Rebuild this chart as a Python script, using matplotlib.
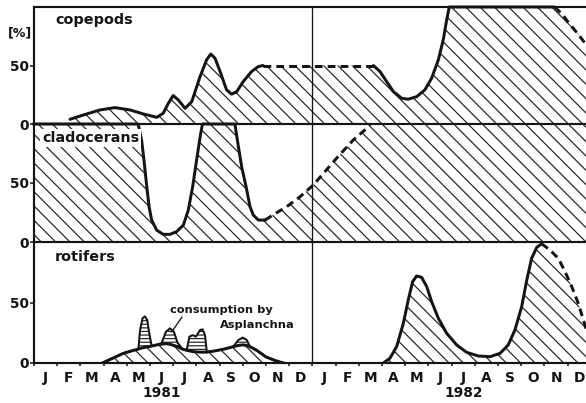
import matplotlib
matplotlib.use("Agg")
import matplotlib.pyplot as plt
import matplotlib.transforms as mtransforms

# ---------------- data ----------------
month_labels = list("JFMAMJJASOND") * 2
year_labels = ["1981", "1982"]
year_pos = [5.5, 18.5]

# copepods (month index, %)
cop_m1 = [1.55, 2.13, 2.84, 3.49, 4.14, 4.71, 5.29, 5.57, 5.79, 6.0, 6.22, 6.51, 6.80,
          7.16, 7.44, 7.62, 7.80, 8.02, 8.30, 8.52, 8.74, 9.02, 9.38, 9.67, 9.88]
cop_v1 = [4.0, 7.7, 12, 14, 12, 8.6, 5.7, 9.2, 17.7, 24.3, 20.6, 13.4, 19.1,
          40.6, 54.9, 59.8, 56.3, 44.9, 29.2, 25.5, 27.7, 36.3, 44.9, 49.1, 50]
cop_dm1 = [9.88, 14.63]
cop_dv1 = [50, 50]
cop_m2 = [14.63, 14.91, 15.2, 15.49, 15.85, 16.13, 16.5, 16.85, 17.14, 17.43, 17.64,
          17.79, 17.9, 22.45]
cop_v2 = [50, 44.9, 36.3, 27.7, 22, 21.2, 23.4, 29.2, 39.2, 54.9, 72, 89.2, 100, 100]
cop_dm2 = [22.45, 22.8, 23.1, 23.45, 23.75, 24.0]
cop_dv2 = [100, 93, 85, 77, 69, 62]

# cladocerans
cla_m1 = [0, 4.45, 4.5, 4.64, 4.74, 4.86, 4.96, 5.07, 5.29, 5.57, 5.86, 6.15, 6.44,
          6.65, 6.84, 7.01, 7.16, 7.26, 8.66, 8.81, 8.95, 9.14, 9.31, 9.45, 9.67, 9.96]
cla_v1 = [100, 100, 99, 86, 69.5, 47, 30, 18.6, 10, 6.5, 6.5, 8.8, 14.4,
          27, 47, 69.5, 89, 100, 100, 80.8, 63.8, 47, 30, 22.9, 18.6, 18.6]
cla_dm = [9.96, 10.3, 10.9, 11.47, 12.04, 12.6, 13.1, 13.76, 14.34, 14.48]
cla_dv = [18.6, 22.9, 30, 38.4, 48.3, 61, 72.3, 86.4, 96.3, 100]
cla_tm = [14.48, 24.0]
cla_tv = [100, 100]

# rotifers 1981: total rotifers and top incl. consumption by Asplanchna
rot1_m = [2.95, 3.4, 3.85, 4.3, 4.5, 4.57, 4.68, 4.78, 4.88, 4.97, 5.07, 5.3, 5.5,
          5.69, 5.86, 6.03, 6.18, 6.4, 6.58, 6.7, 6.84, 6.98, 7.16, 7.27, 7.37,
          7.45, 7.8, 8.2, 8.59, 8.81, 9.0, 9.17, 9.31, 9.6, 10.0, 10.4, 10.75]
rot1_base = [0, 4, 8, 10.5, 11.5, 12, 12.5, 13, 13.3, 13.6, 14, 15, 15.5,
             16, 15.5, 14.5, 13.5, 11.5, 10.5, 10, 9.5, 9.2, 9, 9, 9,
             9, 10, 11.5, 13.5, 14.5, 15, 14.5, 13.5, 10.5, 5, 2, 0]
rot1_top = [0, 4, 8, 10.5, 11.5, 27, 37, 38.5, 35.5, 24.5, 14, 15, 16.5,
            25.9, 28.6, 25.9, 17, 11.5, 10.5, 21.8, 23, 21.8, 27.3, 27.8, 23,
            9, 10, 11.5, 13.5, 19, 21, 19, 13.5, 10.5, 5, 2, 0]
# rotifers 1982
rot2_m = [15.06, 15.34, 15.63, 15.92, 16.13, 16.32, 16.49, 16.71, 16.93, 17.14, 17.43,
          17.79, 18.22, 18.65, 19.15, 19.66, 20.09, 20.44, 20.73, 21.02, 21.24, 21.45,
          21.67, 21.88]
rot2_v = [0, 3.9, 13.5, 32.8, 52, 67.2, 71.9, 70.8, 63, 50.7, 36.9, 24.5, 14.9, 8.8,
          5.8, 5.2, 8, 14.9, 27.3, 46.5, 68.6, 86.5, 95.6, 98.5]
rot2_dm = [21.88, 22.24, 22.6, 22.89, 23.18, 23.46, 23.68, 23.79, 24.0]
rot2_dv = [98.5, 93.4, 86.5, 75.5, 63, 49.3, 35.5, 28.7, 20]

# ---------------- style ----------------
DPI = 86
INK = "#141414"
HATCH_C = "#222222"
plt.rcParams["hatch.linewidth"] = 1.0
plt.rcParams["hatch.color"] = HATCH_C
plt.rcParams["font.family"] = ["DejaVu Sans"]
plt.rcParams["font.weight"] = "bold"

fig = plt.figure(figsize=(586 / DPI, 403 / DPI), dpi=DPI)
fig.patch.set_facecolor("white")

W, H = 586.0, 403.0
LEFT, WIDTH = 34.0, 556.8


def add_panel(top_px, bot_px):
    return fig.add_axes([LEFT / W, 1 - bot_px / H, WIDTH / W, (bot_px - top_px) / H])


ax_c = add_panel(7, 124)
ax_l = add_panel(124, 242)
ax_r = add_panel(242, 363)

LW = 2.5
DASH = (2.6, 1.7)
DIAG = "\\\\"


def style(ax, show_top=False, bottom_labels=False):
    ax.set_xlim(0, 24)
    ax.set_ylim(0, 100)
    ax.set_facecolor("none")
    ax.spines["right"].set_visible(False)
    ax.spines["top"].set_visible(show_top)
    for s in ["top", "left", "bottom"]:
        ax.spines[s].set_linewidth(1.8)
    for s in ax.spines.values():
        s.set_color(INK)
    ax.set_yticks([0, 50])
    ax.set_yticklabels(["0", "50"])
    ax.tick_params(axis="y", length=3, width=1.3, pad=1, labelsize=11.5, colors=INK)
    ax.axvline(12, color=INK, lw=1.1, zorder=5)
    if bottom_labels:
        ax.set_xticks(range(25))
        ax.set_xticklabels([])
        ax.set_xticks([i + 0.5 for i in range(24)], minor=True)
        ax.set_xticklabels(month_labels, minor=True)
        ax.tick_params(axis="x", which="major", length=2.5, width=1.3, colors=INK)
        ax.tick_params(axis="x", which="minor", length=0, pad=6.5, labelsize=11.5,
                       colors=INK)
    else:
        ax.set_xticks([])


style(ax_c, show_top=True)
style(ax_l)
style(ax_r, bottom_labels=True)

# ---- copepods ----
fm = cop_m1 + cop_dm1[1:] + cop_m2[1:] + cop_dm2[1:]
fv = cop_v1 + cop_dv1[1:] + cop_v2[1:] + cop_dv2[1:]
ax_c.fill_between(fm, 0, fv, facecolor="none", edgecolor=HATCH_C, hatch=DIAG, lw=0)
ax_c.plot(cop_m1, cop_v1, color=INK, lw=LW, solid_capstyle="round", solid_joinstyle="round")
ax_c.plot(cop_m2, cop_v2, color=INK, lw=LW, solid_capstyle="round", solid_joinstyle="round",
          clip_on=False)
ax_c.plot(cop_dm1, cop_dv1, color=INK, lw=LW, dashes=DASH)
ax_c.plot(cop_dm2, cop_dv2, color=INK, lw=LW, dashes=DASH)
ax_c.text(0.9, 89, "copepods", fontsize=12, va="center", ha="left", color=INK)
ax_c.text(-0.6, 78, "[%]", fontsize=10.5, va="center", ha="center", color=INK,
          clip_on=False)

# ---- cladocerans ----
fm = cla_m1 + cla_dm[1:] + cla_tm[1:]
fv = cla_v1 + cla_dv[1:] + cla_tv[1:]
ax_l.fill_between(fm, 0, fv, facecolor="none", edgecolor=HATCH_C, hatch=DIAG, lw=0)
ax_l.plot(cla_m1, cla_v1, color=INK, lw=LW, solid_joinstyle="round", clip_on=False)
ax_l.plot(cla_dm, cla_dv, color=INK, lw=LW, dashes=DASH)
ax_l.text(0.35, 88, "cladocerans", fontsize=12, va="center", ha="left", color=INK,
          bbox=dict(boxstyle="square,pad=0.15", fc="white", ec="none"))

# ---- rotifers ----
ax_r.fill_between(rot1_m, 0, rot1_base, facecolor="none", edgecolor=HATCH_C,
                  hatch=DIAG, lw=0)
ax_r.fill_between(rot1_m, rot1_base, rot1_top, facecolor="none", edgecolor=HATCH_C,
                  hatch="----", lw=0)
ax_r.plot(rot1_m, rot1_top, color=INK, lw=1.7, solid_joinstyle="round")
ax_r.plot(rot1_m, rot1_base, color=INK, lw=LW, solid_joinstyle="round")

fm2 = rot2_m + rot2_dm[1:]
fv2 = rot2_v + rot2_dv[1:]
ax_r.fill_between(fm2, 0, fv2, facecolor="none", edgecolor=HATCH_C, hatch=DIAG, lw=0)
ax_r.plot(rot2_m, rot2_v, color=INK, lw=LW, solid_joinstyle="round")
ax_r.plot(rot2_dm, rot2_dv, color=INK, lw=LW, dashes=DASH)
ax_r.text(0.9, 87.5, "rotifers", fontsize=12, va="center", ha="left", color=INK)

ax_r.text(5.86, 43.8, "consumption by", fontsize=9.5, va="center", ha="left", color=INK)
ax_r.text(8.0, 31.4, "Asplanchna", fontsize=9.5, va="center", ha="left", color=INK)
ax_r.annotate("", xy=(5.93, 25.6), xytext=(6.38, 38),
              arrowprops=dict(arrowstyle="-", color=INK, lw=1.1, shrinkA=0, shrinkB=0))

# year labels
trans = mtransforms.blended_transform_factory(ax_r.transData, fig.transFigure)
for yl, yp in zip(year_labels, year_pos):
    fig.text(yp, 10 / H, yl, transform=trans, ha="center", va="center",
             fontsize=11.5, color=INK)

fig.savefig("out.png", dpi=DPI, facecolor="white")
